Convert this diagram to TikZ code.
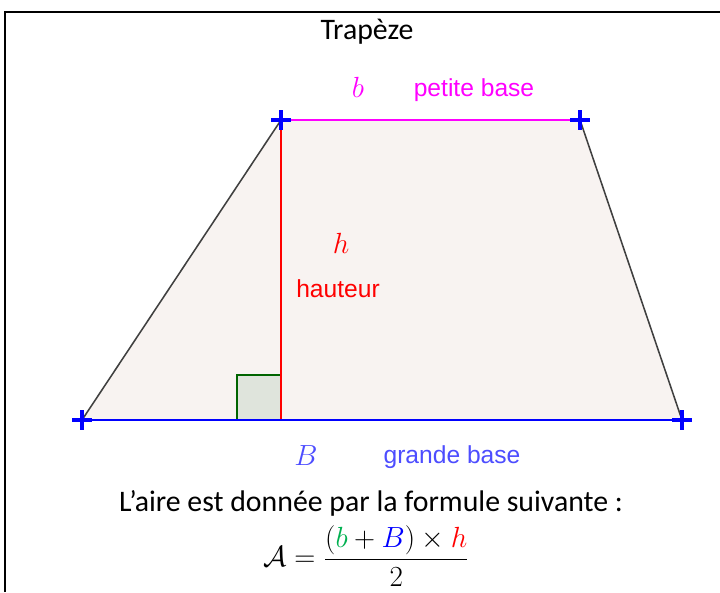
\documentclass[tikz,border=0pt]{standalone}
\usepackage{amsmath,amssymb}
\usepackage{xcolor}
\usepackage{fontspec}
\setmainfont{Carlito}
\newfontfamily\ggbfont{Liberation Sans}
\usepackage{tikz}
\usetikzlibrary{positioning}
\definecolor{ggbmagenta}{HTML}{FF00FF}
\definecolor{ggbred}{HTML}{FF0000}
\definecolor{ggbblue}{HTML}{0000FF}
\definecolor{ggblabelblue}{HTML}{4D4DFF}
\definecolor{ggbfill}{HTML}{F8F3F1}
\definecolor{anglegreen}{HTML}{006400}
\definecolor{anglefill}{HTML}{DFE4DC}
\definecolor{formgreen}{HTML}{00B050}
\definecolor{formblue}{HTML}{0000FF}

\begin{document}
\begin{tikzpicture}[
    x=0.025cm, y=-0.025cm,
    side/.style={draw=black!75, line width=1.1pt},
    base/.style={line width=1.4pt},
    vertex/.style={draw=ggbblue, line width=2.9pt},
    ggblabel/.style={font=\ggbfont\fontsize{17.5}{20}\selectfont, text=#1, inner sep=0pt},
    ggbvar/.style={font=\fontsize{21}{24}\selectfont, text=#1, inner sep=0pt},
    doctext/.style={font=\fontsize{21.2}{25}\selectfont, inner sep=0pt}
]
\useasboundingbox (0,0) rectangle (720,592);

% Frame of the cell
\draw[line width=1.7pt] (5,592) -- (5,12) -- (720,12);

% Vertices
\coordinate (tl) at (281,120);
\coordinate (tr) at (580,120);
\coordinate (bl) at (82,420);
\coordinate (br) at (682,420);
\coordinate (foot) at (281,420);

% Trapezoid
\fill[ggbfill] (bl) -- (tl) -- (tr) -- (br) -- cycle;
\draw[draw=anglegreen, fill=anglefill, line width=1.1pt] (foot) rectangle ++(-44,-45);
\draw[ggbred, line width=1.1pt] (tl) -- (foot);
\draw[side] (bl) -- (tl);
\draw[side] (tr) -- (br);
\draw[base, ggbmagenta] (tl) -- (tr);
\draw[base, ggbblue] (bl) -- (br);
\foreach \v in {tl,tr,bl,br}
  \draw[vertex] (\v) +(-10,0) -- +(10,0) (\v) +(0,-10) -- +(0,10);

% Labels
\node[doctext] (titre) at (367,32) {Trapèze};
\node[ggbvar=ggbmagenta] (b) at (358,87) {$b$};
\node[ggblabel=ggbmagenta] (pbase) at (474,90) {petite base};
\node[ggbvar=ggbred] (h) at (341,243) {$h$};
\node[ggblabel=ggbred] (haut) at (338,289) {hauteur};
\node[ggbvar=ggblabelblue] (B) at (306,456) {$B$};
\node[ggblabel=ggblabelblue] (gbase) at (452,457) {grande base};

% Formula
\node[doctext] (aire) at (371,503) {L’aire est donnée par la formule suivante :};
\node[inner sep=0pt] (formule) at (366,556)
  {\fontsize{22}{26}\selectfont
   $\mathcal{A}=\dfrac{(\textcolor{formgreen}{b}+\textcolor{formblue}{B})\times\textcolor{ggbred}{h}}{2}$};

\end{tikzpicture}
\end{document}
